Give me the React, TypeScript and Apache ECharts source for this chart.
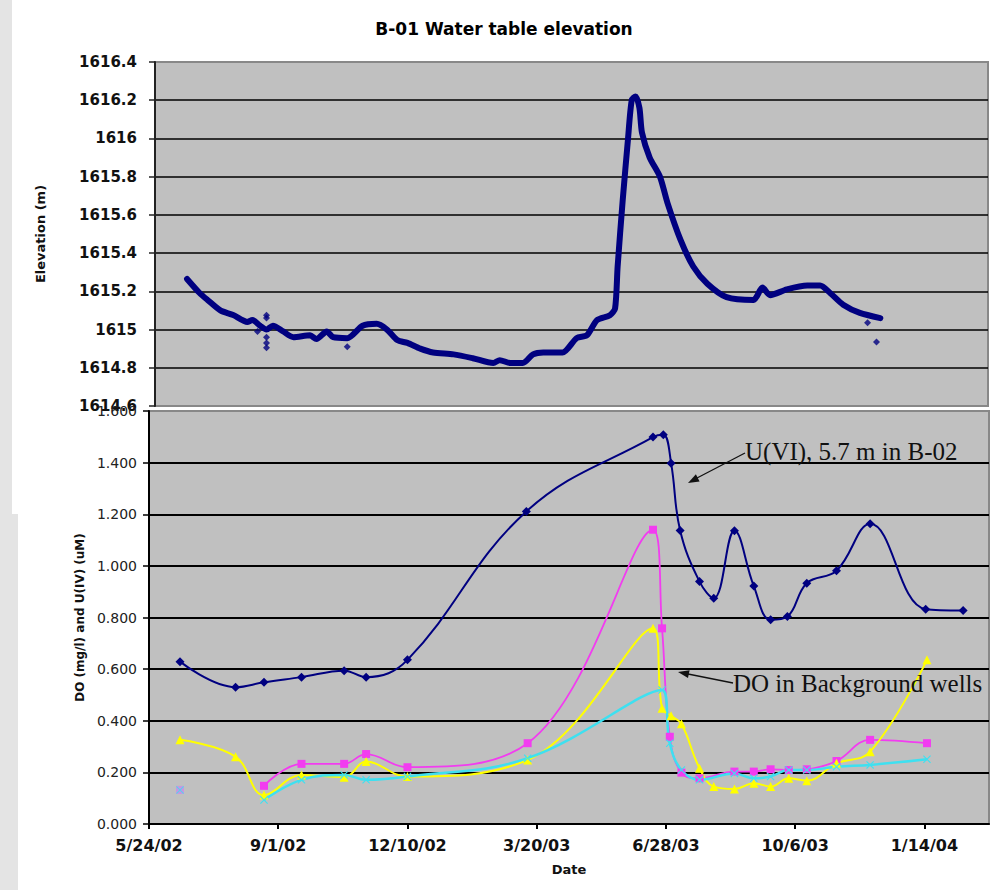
import React, { useEffect, useRef } from "react";
import * as echarts from "echarts";

// ---------- data (x = days since 5/24/02) ----------
const xTickLabels = ["5/24/02", "9/1/02", "12/10/02", "3/20/03", "6/28/03", "10/6/03", "1/14/04"];
const X_MAX = 650;
const X_INTERVAL = 100;

// Top chart: B-01 water table elevation (m)
const elevDays = [
  25, 35, 41, 51, 61, 72, 76, 82, 87, 92, 100, 108, 121, 126, 134, 139, 150, 162, 173, 181,
  189, 197, 207, 217, 233, 248, 264, 269, 277, 287, 295, 303, 318, 329, 337, 345, 355, 359, 361, 365,
  369, 372, 375, 378, 380, 386, 394, 400, 410, 420, 431, 446, 467, 474, 480, 493, 509, 519, 527, 537,
  550, 566,
];
const elevValues = [
  1615.265, 1615.19, 1615.155, 1615.1, 1615.076, 1615.04, 1615.05, 1615.02, 1615.0, 1615.02,
  1614.99, 1614.96, 1614.97, 1614.95, 1614.99, 1614.96, 1614.955, 1615.02, 1615.03, 1615.0,
  1614.945, 1614.93, 1614.9, 1614.88, 1614.87, 1614.85, 1614.825, 1614.84, 1614.825, 1614.825,
  1614.87, 1614.88, 1614.88, 1614.955, 1614.97, 1615.05, 1615.075, 1615.11, 1615.33, 1615.68,
  1615.99, 1616.2, 1616.22, 1616.16, 1616.03, 1615.9, 1615.8, 1615.66, 1615.47, 1615.33,
  1615.24, 1615.17, 1615.155, 1615.22, 1615.18, 1615.21, 1615.23, 1615.23, 1615.19, 1615.13,
  1615.087, 1615.06,
];
const elevOutlierDays = [87, 87, 87, 87, 87, 80, 150, 556, 563];
const elevOutlierValues = [1614.905, 1614.93, 1614.96, 1615.06, 1615.075, 1614.99, 1614.91, 1615.035, 1614.935];

// Bottom chart: U(VI) in B-02 (uM)
const uDays = [24, 67, 89, 118, 151, 168, 200, 292, 390, 398, 404, 411, 426, 437, 453, 468, 481, 494, 509, 532, 558, 601, 630];
const uValues = [
  0.629, 0.53, 0.549, 0.569, 0.594, 0.569, 0.636, 1.211, 1.499, 1.508, 1.398, 1.137,
  0.939, 0.875, 1.136, 0.922, 0.791, 0.804, 0.933, 0.981, 1.163, 0.832, 0.827,
];

// DO in background wells (mg/l)
const magentaDays = [89, 118, 151, 168, 200, 293, 390, 397, 403, 412, 426, 453, 468, 481, 495, 509, 532, 558, 602];
const magentaValues = [
  0.148, 0.233, 0.233, 0.271, 0.22, 0.313, 1.14, 0.758, 0.338, 0.199, 0.177, 0.203, 0.203,
  0.212, 0.209, 0.212, 0.244, 0.326, 0.313,
];
const yellowDays = [24, 67, 89, 118, 151, 168, 200, 293, 390, 397, 404, 412, 426, 437, 453, 468, 481, 495, 509, 532, 558, 602];
const yellowValues = [
  0.326, 0.261, 0.112, 0.19, 0.181, 0.242, 0.184, 0.248, 0.758, 0.448, 0.419, 0.388, 0.216,
  0.145, 0.136, 0.158, 0.145, 0.177, 0.168, 0.235, 0.28, 0.636,
];
const cyanDays = [89, 118, 151, 168, 200, 293, 397, 403, 412, 426, 453, 468, 481, 495, 509, 532, 558, 602];
const cyanValues = [
  0.093, 0.171, 0.19, 0.171, 0.184, 0.255, 0.519, 0.313, 0.209, 0.171, 0.196, 0.177, 0.184,
  0.209, 0.209, 0.222, 0.229, 0.251,
];
const loneDays = [24];
const loneValues = [0.132];

// ---------- helpers ----------
const zip = (xs: number[], ys: number[]) => xs.map((x, i) => [x, ys[i]]);
const FONT = "Verdana, 'DejaVu Sans', sans-serif";
const SERIF = "'Liberation Serif', 'Times New Roman', serif";
const NAVY = "#000080";
const MAGENTA = "#f23cf0";
const YELLOW = "#ffff00";
const CYAN = "#3ee0f0";
const X_SYMBOL = "path://M0,1 L1,0 L5,4 L9,0 L10,1 L6,5 L10,9 L9,10 L5,6 L1,10 L0,9 L4,5 Z";

function buildOption() {
  return {
    animation: false,
    backgroundColor: "transparent",
    title: {
      text: "B-01 Water table elevation",
      left: "center",
      top: 15,
      textStyle: { fontFamily: FONT, fontSize: 17, fontWeight: "bold", color: "#000" },
    },
    grid: [
      { left: 155, top: 62, width: 833, height: 344, show: true, backgroundColor: "#c0c0c0", borderColor: "#888", borderWidth: 2 },
      { left: 149, top: 411, width: 840, height: 413, show: true, backgroundColor: "#c0c0c0", borderColor: "#888", borderWidth: 2 },
    ],
    xAxis: [
      { type: "value", gridIndex: 0, min: 0, max: X_MAX, show: false },
      {
        type: "value",
        gridIndex: 1,
        min: 0,
        max: X_MAX,
        interval: X_INTERVAL,
        axisLine: { show: true, lineStyle: { color: "#000", width: 2 } },
        axisTick: { show: true, length: 5, lineStyle: { color: "#000", width: 2 } },
        axisLabel: {
          margin: 13,
          showMaxLabel: false,
          fontFamily: FONT,
          fontSize: 16,
          fontWeight: "bold",
          color: "#111",
          formatter: (v: number) => xTickLabels[Math.round(v / X_INTERVAL)] ?? "",
        },
        splitLine: { show: false },
        name: "Date",
        nameLocation: "middle",
        nameGap: 39,
        nameTextStyle: { fontFamily: FONT, fontSize: 13, fontWeight: "bold", color: "#111" },
      },
    ],
    yAxis: [
      {
        type: "value",
        gridIndex: 0,
        min: 1614.6,
        max: 1616.4,
        interval: 0.2,
        axisLine: { show: true, lineStyle: { color: "#222", width: 2 } },
        axisTick: { show: true, length: 6, lineStyle: { color: "#222", width: 1.5 } },
        axisLabel: {
          margin: 18,
          fontFamily: FONT,
          fontSize: 15,
          fontWeight: "bold",
          color: "#111",
          formatter: (v: number) => String(Math.round(v * 10) / 10),
        },
        splitLine: { show: true, showMinLine: false, showMaxLine: false, lineStyle: { color: "#000", width: 1.7 } },
        name: "Elevation (m)",
        nameLocation: "middle",
        nameGap: 108,
        nameTextStyle: { fontFamily: FONT, fontSize: 13, fontWeight: "bold", color: "#111" },
      },
      {
        type: "value",
        gridIndex: 1,
        min: 0,
        max: 1.6,
        interval: 0.2,
        axisLine: { show: true, lineStyle: { color: "#000", width: 2 } },
        axisTick: { show: true, length: 6, lineStyle: { color: "#000", width: 1.5 } },
        axisLabel: {
          margin: 12,
          fontFamily: FONT,
          fontSize: 14,
          color: "#222",
          formatter: (v: number) => v.toFixed(3),
        },
        splitLine: { show: true, showMinLine: false, showMaxLine: false, lineStyle: { color: "#000", width: 2 } },
        name: "DO (mg/l) and U(IV) (uM)",
        nameLocation: "middle",
        nameGap: 62,
        nameTextStyle: { fontFamily: FONT, fontSize: 12, fontWeight: "bold", color: "#111" },
      },
    ],
    series: [
      {
        name: "Elevation",
        type: "line",
        xAxisIndex: 0,
        yAxisIndex: 0,
        data: zip(elevDays, elevValues),
        smooth: 0.25,
        showSymbol: false,
        lineStyle: { color: NAVY, width: 6, join: "round", cap: "round" },
        z: 3,
      },
      {
        name: "Elevation outliers",
        type: "scatter",
        xAxisIndex: 0,
        yAxisIndex: 0,
        data: zip(elevOutlierDays, elevOutlierValues),
        symbol: "diamond",
        symbolSize: 7,
        itemStyle: { color: NAVY },
        z: 3,
      },
      {
        name: "U(VI)",
        type: "line",
        xAxisIndex: 1,
        yAxisIndex: 1,
        data: zip(uDays, uValues),
        smooth: 0.4,
        symbol: "diamond",
        symbolSize: 9,
        lineStyle: { color: NAVY, width: 2 },
        itemStyle: { color: NAVY },
        z: 4,
      },
      {
        name: "DO well 1",
        type: "line",
        xAxisIndex: 1,
        yAxisIndex: 1,
        data: zip(magentaDays, magentaValues),
        smooth: 0.4,
        symbol: "rect",
        symbolSize: 8,
        lineStyle: { color: MAGENTA, width: 1.8 },
        itemStyle: { color: MAGENTA },
        z: 3,
      },
      {
        name: "DO well 2",
        type: "line",
        xAxisIndex: 1,
        yAxisIndex: 1,
        data: zip(yellowDays, yellowValues),
        smooth: 0.4,
        symbol: "triangle",
        symbolSize: 9,
        lineStyle: { color: YELLOW, width: 2 },
        itemStyle: { color: YELLOW },
        z: 3,
      },
      {
        name: "DO well 3",
        type: "line",
        xAxisIndex: 1,
        yAxisIndex: 1,
        data: zip(cyanDays, cyanValues),
        smooth: 0.4,
        symbol: X_SYMBOL,
        symbolSize: 8,
        lineStyle: { color: CYAN, width: 2.5 },
        itemStyle: { color: CYAN },
        z: 3,
      },
      {
        name: "DO lone magenta",
        type: "scatter",
        xAxisIndex: 1,
        yAxisIndex: 1,
        data: zip(loneDays, loneValues),
        symbol: "rect",
        symbolSize: 8,
        itemStyle: { color: "#c88ce8" },
        z: 3,
      },
      {
        name: "DO lone cyan",
        type: "scatter",
        xAxisIndex: 1,
        yAxisIndex: 1,
        data: zip(loneDays, loneValues),
        symbol: X_SYMBOL,
        symbolSize: 8,
        itemStyle: { color: CYAN },
        z: 4,
      },
    ],
    graphic: [
      {
        type: "text",
        x: 745,
        y: 451,
        z: 100,
        style: { text: "U(VI), 5.7 m in B-02", fontFamily: SERIF, fontSize: 25, fill: "#111", verticalAlign: "middle" },
      },
      {
        type: "text",
        x: 733,
        y: 683,
        z: 100,
        style: { text: "DO in Background wells", fontFamily: SERIF, fontSize: 25, fill: "#111", verticalAlign: "middle" },
      },
      {
        type: "line",
        z: 100,
        shape: { x1: 745, y1: 453, x2: 697, y2: 478 },
        style: { stroke: "#111", lineWidth: 1.3 },
      },
      {
        type: "polygon",
        z: 100,
        shape: { points: [[688, 483], [695.9, 474.3], [699.6, 481.4]] },
        style: { fill: "#111" },
      },
      {
        type: "line",
        z: 100,
        shape: { x1: 733, y1: 683, x2: 688, y2: 674 },
        style: { stroke: "#111", lineWidth: 1.3 },
      },
      {
        type: "polygon",
        z: 100,
        shape: { points: [[678, 672], [689.6, 670.3], [688.0, 678.1]] },
        style: { fill: "#111" },
      },
    ],
  };
}

export default function App() {
  const ref = useRef<HTMLDivElement>(null);
  useEffect(() => {
    if (!ref.current) return;
    const chart = echarts.init(ref.current, null, { renderer: "svg" });
    chart.setOption(buildOption() as any);
    return () => chart.dispose();
  }, []);
  return (
    <div style={{ position: "absolute", left: 0, top: 0, width: 1008, height: 890, background: "#e4e4e4", overflow: "hidden" }}>
      <div style={{ position: "absolute", left: 12, top: 0, width: 996, height: 514, background: "#fff" }} />
      <div style={{ position: "absolute", left: 18, top: 480, width: 990, height: 410, background: "#fff" }} />
      <div ref={ref} style={{ position: "absolute", left: 0, top: 0, width: 1008, height: 890 }} />
    </div>
  );
}
